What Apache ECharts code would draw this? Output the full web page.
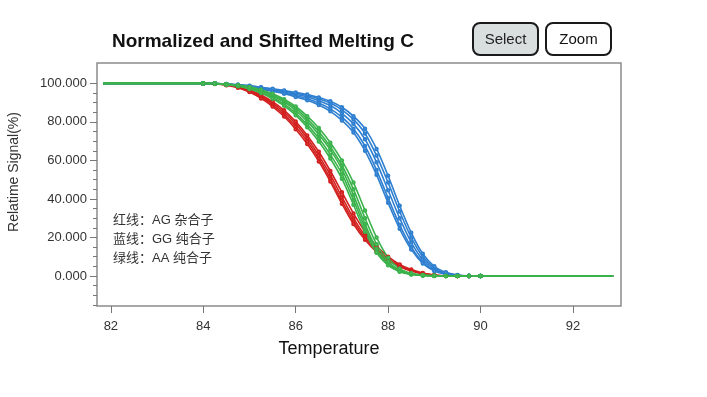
<!DOCTYPE html>
<html>
<head>
<meta charset="utf-8">
<title>melting</title>
<style>
html,body{margin:0;padding:0;width:100%;height:100%;background:#fff;}
#container{width:707px;height:397px;}
</style>
</head>
<body>
<div id="container"></div>
<script src="https://cdn.jsdelivr.net/npm/echarts@6/dist/echarts.min.js"></script>
<script>
// temperature grid shared by all curves
var temps = [81.83, 84, 84.25, 84.5, 84.75, 85, 85.25, 85.5, 85.75, 86, 86.25, 86.5, 86.75, 87, 87.25, 87.5, 87.75, 88, 88.25, 88.5, 88.75, 89, 89.25, 89.5, 89.75, 90, 92.87];

// AG (red)
var red1 = [100,100,99.8,99.3,98.2,96.2,93.5,89.8,85,79,71.5,62.5,52.5,41,30,21,14,9,5.5,3,1.3,0.4,0.1,0,0,0,0];
var red2 = [100,100,99.8,99.2,98,95.8,92.8,88.8,83.8,77.5,70,61,50.5,39,28.5,19.8,13.2,8.5,5.2,2.8,1.2,0.4,0.1,0,0,0,0];
var red3 = [100,100,99.9,99.4,98.4,96.6,94,90.5,86,80.2,73,64.5,54.5,43.5,32.5,23,15.5,10,6,3.3,1.5,0.5,0.1,0,0,0,0];
var red4 = [100,100,99.7,99.1,97.8,95.5,92.2,88,82.8,76.2,68.5,59.5,49,37.5,27,18.8,12.5,8,4.8,2.6,1.1,0.3,0,0,0,0,0];

// GG (blue)
var blue1 = [100,100,99.9,99.6,99.2,98.5,97.6,96.6,95.5,94.3,93,91,88.5,84.5,79,71,59,44.5,30,17.5,8.5,3.5,1.3,0.3,0,0,0];
var blue2 = [100,100,99.9,99.6,99.1,98.3,97.3,96.2,95,93.6,92,89.8,86.8,82.5,76.5,67.5,55,40.5,26.5,15,7.2,2.9,1,0.2,0,0,0];
var blue3 = [100,100,99.9,99.7,99.3,98.7,97.9,97,96,94.9,93.7,92,89.8,86.3,81.3,74,62.5,48.5,33.5,20,10,4.2,1.6,0.4,0.1,0,0];
var blue4 = [100,100,99.9,99.5,99,98.2,97.1,95.9,94.6,93,91.2,88.8,85.5,80.8,74.5,65,52.5,38,24.5,13.8,6.5,2.6,0.9,0.2,0,0,0];
var blue5 = [100,100,99.9,99.7,99.3,98.8,98,97.2,96.3,95.3,94.2,92.7,90.7,87.6,83,76.5,66,52,36.5,22.5,11.5,5,1.9,0.5,0.1,0,0];

// AA (green)
var green1 = [100,100,99.9,99.5,98.9,97.8,96,93.5,90.3,86,80.3,73.5,65.5,55.5,42,27,14,6.5,2.6,1,0.4,0.1,0,0,0,0,0];
var green2 = [100,100,99.9,99.4,98.7,97.4,95.4,92.7,89.2,84.6,78.6,71.5,63,53,39.5,25,13,6,2.4,0.9,0.3,0.1,0,0,0,0,0];
var green3 = [100,100,99.9,99.6,99,98,96.4,94.1,91,87,81.6,75,67,57.5,45,30,16.5,7.5,3,1.1,0.4,0.1,0,0,0,0,0];
var green4 = [100,100,99.8,99.3,98.5,97.1,95,92,88.4,83.5,77.2,69.8,61,50.5,37,23,12,5.5,2.2,0.8,0.3,0,0,0,0,0,0];
var green5 = [100,100,99.9,99.6,99.1,98.2,96.7,94.6,91.8,88,83,76.8,69.2,60,48.5,34,20,9.5,3.8,1.4,0.5,0.1,0,0,0,0,0];

var xTicks = [82, 84, 86, 88, 90, 92];
var yTicks = [0, 20, 40, 60, 80, 100];
var yMinorTicks = [-15,-10,-5,0,5,10,15,20,25,30,35,40,45,50,55,60,65,70,75,80,85,90,95,100];
var notes = ['红线：AG 杂合子', '蓝线：GG 纯合子', '绿线：AA 纯合子'];

var RED = '#d2201f', BLUE = '#2f7fd0', GREEN = '#3bb24b';

function curve(vals, color) {
  return {
    type: 'line',
    data: temps.map(function (t, i) { return [t, vals[i]]; }),
    smooth: 0.3,
    symbol: 'emptyCircle',
    symbolSize: function (v) { return (v[0] < 83 || v[0] > 92) ? 0 : 2.5; },
    lineStyle: { color: color, width: 1.6 },
    itemStyle: { color: color, borderWidth: 1 },
    silent: true
  };
}

var series = [
  curve(red1, RED), curve(red2, RED), curve(red3, RED), curve(red4, RED),
  curve(blue1, BLUE), curve(blue2, BLUE), curve(blue3, BLUE), curve(blue4, BLUE), curve(blue5, BLUE),
  curve(green1, GREEN), curve(green2, GREEN), curve(green3, GREEN), curve(green4, GREEN), curve(green5, GREEN)
];

var graphics = [
  { type: 'text', style: { text: 'Normalized and Shifted Melting C', x: 112, y: 42, font: 'bold 19px "Liberation Sans", Arial, sans-serif', fill: '#111', align: 'left', verticalAlign: 'middle' } },
  { type: 'rect', shape: { x: 473, y: 23, width: 65, height: 32, r: 7 }, style: { fill: '#d9dede', stroke: '#1a1a1a', lineWidth: 2 } },
  { type: 'text', style: { text: 'Select', x: 505.5, y: 39.5, font: '15px "Liberation Sans", Arial, sans-serif', fill: '#222', align: 'center', verticalAlign: 'middle' } },
  { type: 'rect', shape: { x: 546, y: 23, width: 65, height: 32, r: 7 }, style: { fill: '#fff', stroke: '#1a1a1a', lineWidth: 2 } },
  { type: 'text', style: { text: 'Zoom', x: 578.5, y: 39.5, font: '15px "Liberation Sans", Arial, sans-serif', fill: '#111', align: 'center', verticalAlign: 'middle' } },
  { type: 'text', style: { text: 'Temperature', x: 329, y: 349, font: '18px "Liberation Sans", Arial, sans-serif', fill: '#111', align: 'center', verticalAlign: 'middle' } },
  { type: 'text', rotation: Math.PI / 2, x: 14, y: 172, style: { text: 'Relatime Signal(%)', x: 0, y: 0, font: '14px "Liberation Sans", Arial, sans-serif', fill: '#333', align: 'center', verticalAlign: 'middle' } }
];
notes.forEach(function (s, i) {
  graphics.push({ type: 'text', style: { text: s, x: 113, y: 220 + i * 19, font: '13px "Liberation Sans", "Noto Sans CJK SC", sans-serif', fill: '#333', align: 'left', verticalAlign: 'middle' } });
});

var chart = echarts.init(document.getElementById('container'));
chart.setOption({
  animation: false,
  backgroundColor: '#fff',
  grid: { left: 97, top: 63, width: 524, height: 243, show: true, borderColor: '#8c8c8c', borderWidth: 1.5, backgroundColor: '#fff' },
  xAxis: {
    type: 'value', min: 81.7, max: 93.04,
    axisLine: { show: false, onZero: false },
    splitLine: { show: false },
    axisTick: { show: true, customValues: xTicks, length: 7, lineStyle: { color: '#777' } },
    axisLabel: { customValues: xTicks, margin: 14, fontSize: 13, color: '#333', fontFamily: 'Liberation Sans' }
  },
  yAxis: [{
    type: 'value', min: -15.6, max: 110.6,
    axisLine: { show: false, onZero: false },
    splitLine: { show: false },
    axisTick: { show: true, customValues: yTicks, length: 7, lineStyle: { color: '#777' } },
    axisLabel: { customValues: yTicks, margin: 10, fontSize: 13, color: '#333', fontFamily: 'Liberation Sans',
      formatter: function (v) { return v.toFixed(3); } }
  }, {
    type: 'value', min: -15.6, max: 110.6, position: 'left',
    axisLine: { show: false, onZero: false },
    splitLine: { show: false },
    axisTick: { show: true, customValues: yMinorTicks, length: 4, lineStyle: { color: '#777' } },
    axisLabel: { show: false }
  }],
  series: series,
  graphic: graphics
});
</script>
</body>
</html>
